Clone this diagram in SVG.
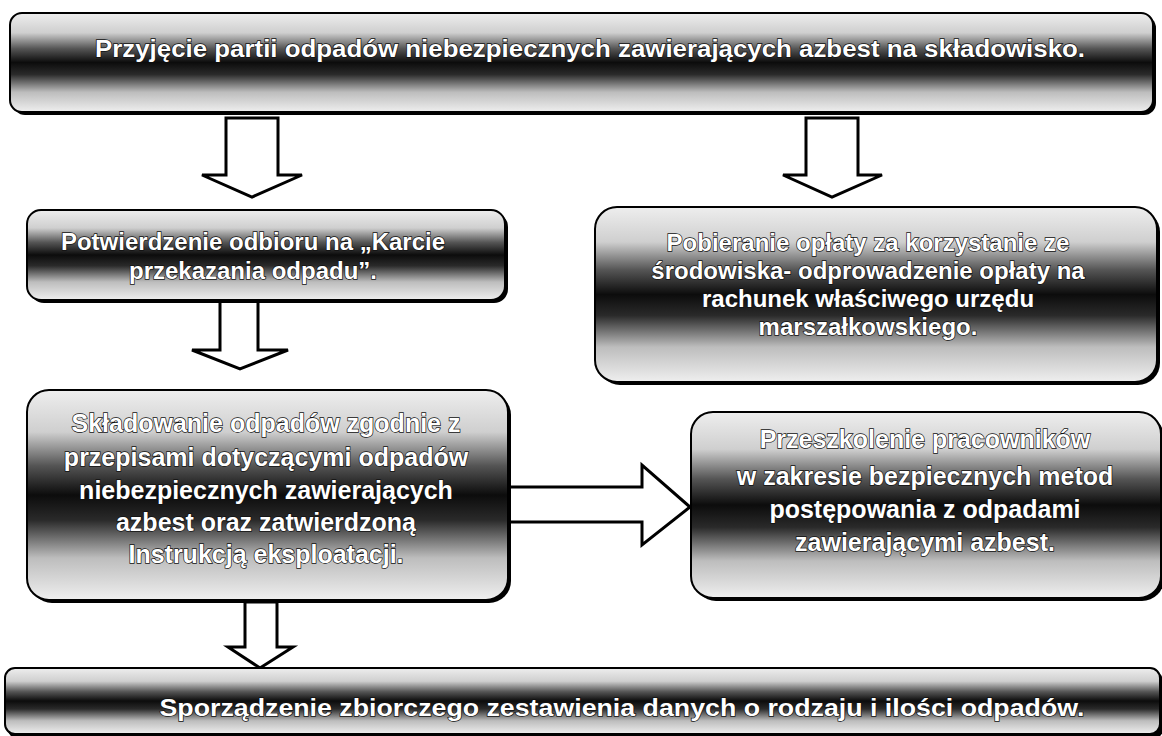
<svg xmlns="http://www.w3.org/2000/svg" width="1162" height="736" viewBox="0 0 1162 736">
  <defs>
    <linearGradient id="band" x1="0" y1="0" x2="0" y2="1">
      <stop offset="0" stop-color="#eeeeee"/>
      <stop offset="0.2" stop-color="#cfcfcf"/>
      <stop offset="0.36" stop-color="#555555"/>
      <stop offset="0.5" stop-color="#0c0c0c"/>
      <stop offset="0.62" stop-color="#2a2a2a"/>
      <stop offset="0.8" stop-color="#bdbdbd"/>
      <stop offset="1" stop-color="#efefef"/>
    </linearGradient>
  </defs>
  <style>
    .box { fill: url(#band); stroke: #000; stroke-width: 2; }
    .shadow { fill: #000; }
    .arrow { fill: #fff; stroke: #000; stroke-width: 3; stroke-linejoin: miter; }
    .t { font-family: "Liberation Sans", Arial, sans-serif; font-weight: bold; fill: #fff; stroke: #111; stroke-width: 1.4; paint-order: stroke; text-anchor: middle; }
    .big { font-size: 24px; }
    .mid { font-size: 24px; }
    .lg { font-size: 25px; }
  </style>

  <g id="connectors">
    <path class="arrow" d="M226,118 H278 V175 H302 L252,197 L202,175 H226 Z"/>
    <path class="arrow" d="M806,118 H858 V175 H882 L832,197 L783,175 H806 Z"/>
    <path class="arrow" d="M220,300 H258 V350 H288 L240,369 L192,350 H220 Z"/>
    <path class="arrow" d="M508,487 H642 V465 L690,507 L642,545 V522 H508 Z"/>
    <path class="arrow" d="M245,602 H277 V647 H293 L260,668 L228,647 H245 Z"/>
  </g>

  <g id="n-top">
    <rect class="shadow" x="13" y="16" width="1143" height="99" rx="12"/>
    <rect class="box" x="10" y="13" width="1143" height="99" rx="12"/>
    <text class="t big" x="590" y="57" textLength="990" lengthAdjust="spacingAndGlyphs">Przyjęcie partii odpadów niebezpiecznych zawierających azbest na składowisko.</text>
  </g>

  <g id="n-potwierdzenie">
    <rect class="shadow" x="30" y="213" width="478" height="90" rx="14"/>
    <rect class="box" x="27" y="210" width="478" height="90" rx="14"/>
    <text class="t mid" x="253" y="250">Potwierdzenie odbioru na „Karcie</text>
    <text class="t mid" x="253" y="279">przekazania odpadu”.</text>
  </g>

  <g id="n-pobieranie">
    <rect class="shadow" x="598" y="210" width="562" height="175" rx="22"/>
    <rect class="box" x="595" y="207" width="562" height="175" rx="22"/>
    <text class="t mid" x="868" y="251">Pobieranie opłaty za korzystanie ze</text>
    <text class="t mid" x="868" y="279">środowiska- odprowadzenie opłaty na</text>
    <text class="t mid" x="868" y="307">rachunek właściwego urzędu</text>
    <text class="t mid" x="868" y="335">marszałkowskiego.</text>
  </g>

  <g id="n-skladowanie">
    <rect class="shadow" x="30" y="393" width="481" height="210" rx="22"/>
    <rect class="box" x="27" y="390" width="481" height="210" rx="22"/>
    <text class="t lg" x="266" y="432">Składowanie odpadów zgodnie z</text>
    <text class="t lg" x="266" y="466">przepisami dotyczącymi odpadów</text>
    <text class="t lg" x="266" y="499">niebezpiecznych zawierających</text>
    <text class="t lg" x="266" y="531">azbest oraz zatwierdzoną</text>
    <text class="t lg" x="266" y="563">Instrukcją eksploatacji.</text>
  </g>

  <g id="n-przeszkolenie">
    <rect class="shadow" x="694" y="415" width="470" height="186" rx="22"/>
    <rect class="box" x="691" y="412" width="470" height="186" rx="22"/>
    <text class="t lg" x="925" y="448">Przeszkolenie pracowników</text>
    <text class="t lg" x="925" y="485">w zakresie bezpiecznych metod</text>
    <text class="t lg" x="925" y="518">postępowania z odpadami</text>
    <text class="t lg" x="925" y="551">zawierającymi azbest.</text>
  </g>

  <g id="n-bottom">
    <rect class="shadow" x="8" y="671" width="1155" height="68" rx="10"/>
    <rect class="box" x="5" y="668" width="1155" height="66" rx="10"/>
    <text class="t big" x="622" y="716" textLength="925" lengthAdjust="spacingAndGlyphs">Sporządzenie zbiorczego zestawienia danych o rodzaju i ilości odpadów.</text>
  </g>
</svg>
